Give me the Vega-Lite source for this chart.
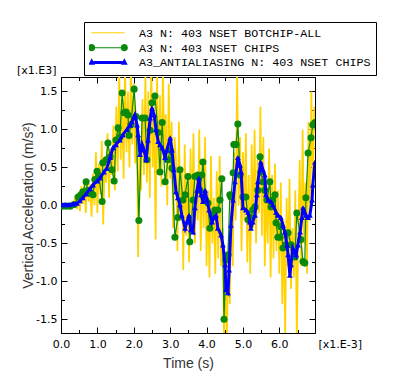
{
  "$schema": "https://vega.github.io/schema/vega-lite/v6.json",
  "width": 254,
  "height": 256,
  "autosize": "none",
  "padding": {"left": 61, "top": 77, "right": 81, "bottom": 52},
  "background": "white",
  "config": {
    "view": {"stroke": null},
    "axis": {"grid": false, "domainColor": "black", "tickColor": "black", "labelFont": "DejaVu Sans", "labelFontSize": 11, "labelColor": "#000", "titleFont": "Liberation Sans", "titleFontSize": 14, "titleFontWeight": "normal", "titleColor": "#333", "labelFlush": false, "labelOverlap": false}
  },
  "datasets": {
    "yellow": [
      {"t":0,"v":0},{"t":0.04,"v":0.01},{"t":0.08,"v":-0.01},{"t":0.12,"v":0.02},{"t":0.16,"v":-0.01},{"t":0.2,"v":0.02},{"t":0.24,"v":0},{"t":0.28,"v":0.03},{"t":0.32,"v":-0.02},{"t":0.36,"v":0.04},
      {"t":0.4,"v":0.12},{"t":0.44,"v":-0.05},{"t":0.48,"v":0.18},{"t":0.52,"v":-0.08},{"t":0.56,"v":0.25},{"t":0.6,"v":0.02},{"t":0.64,"v":0.3},{"t":0.68,"v":-0.1},{"t":0.72,"v":0.35},{"t":0.76,"v":0.05},{"t":0.8,"v":0.28},{"t":0.84,"v":-0.15},{"t":0.88,"v":0.42},{"t":0.92,"v":0},
      {"t":0.96,"v":0.7},{"t":1.0,"v":-0.1},{"t":1.04,"v":0.55},{"t":1.08,"v":0.15},{"t":1.12,"v":0.85},{"t":1.16,"v":-0.25},{"t":1.2,"v":0.6},{"t":1.24,"v":0.3},{"t":1.28,"v":0.95},{"t":1.32,"v":0.1},{"t":1.36,"v":0.75},{"t":1.4,"v":0.4},{"t":1.44,"v":1.05},{"t":1.48,"v":0.2},
      {"t":1.52,"v":1.3},{"t":1.56,"v":0.45},{"t":1.6,"v":1.75},{"t":1.64,"v":0.6},{"t":1.68,"v":1.4},{"t":1.72,"v":0.35},{"t":1.76,"v":1.8},{"t":1.8,"v":0.7},{"t":1.84,"v":1.5},{"t":1.88,"v":0.5},{"t":1.92,"v":1.85},{"t":1.96,"v":0.8},{"t":2.0,"v":1.6},{"t":2.04,"v":0.55},
      {"t":2.08,"v":1.2},{"t":2.12,"v":-0.68},{"t":2.16,"v":0.9},{"t":2.2,"v":0.2},{"t":2.24,"v":1.4},{"t":2.28,"v":0.4},
      {"t":2.32,"v":1.75},{"t":2.36,"v":0.3},{"t":2.4,"v":1.5},{"t":2.44,"v":0.1},{"t":2.48,"v":1.9},{"t":2.52,"v":0.5},{"t":2.56,"v":1.3},{"t":2.6,"v":-0.45},{"t":2.64,"v":1.7},{"t":2.68,"v":0.4},{"t":2.72,"v":1.45},{"t":2.76,"v":0.25},{"t":2.8,"v":1.8},{"t":2.84,"v":0.6},{"t":2.88,"v":1.2},{"t":2.92,"v":0},{"t":2.96,"v":1.6},{"t":3.0,"v":0.35},{"t":3.04,"v":1.1},{"t":3.08,"v":-0.3},{"t":3.12,"v":0.9},
      {"t":3.16,"v":0.6},{"t":3.2,"v":-0.6},{"t":3.24,"v":1.1},{"t":3.28,"v":-0.2},{"t":3.32,"v":0.5},{"t":3.36,"v":-0.85},{"t":3.4,"v":0.8},{"t":3.44,"v":-0.4},{"t":3.48,"v":0.3},{"t":3.52,"v":-0.75},{"t":3.56,"v":0.75},{"t":3.6,"v":-0.3},{"t":3.64,"v":0.95},{"t":3.68,"v":-0.5},{"t":3.72,"v":0.4},{"t":3.76,"v":-0.2},{"t":3.8,"v":1.0},
      {"t":3.84,"v":-0.6},{"t":3.88,"v":0.55},{"t":3.92,"v":-0.3},{"t":3.96,"v":0.9},{"t":4.0,"v":-0.8},{"t":4.04,"v":0.2},{"t":4.08,"v":-0.95},{"t":4.12,"v":0.65},{"t":4.16,"v":-0.5},{"t":4.2,"v":0.1},{"t":4.24,"v":-0.9},{"t":4.28,"v":0.45},{"t":4.32,"v":-0.7},{"t":4.36,"v":0.65},{"t":4.4,"v":-0.8},
      {"t":4.44,"v":-0.3},{"t":4.48,"v":-1.8},{"t":4.52,"v":-0.9},{"t":4.56,"v":-1.75},{"t":4.6,"v":-0.5},{"t":4.64,"v":-1.3},
      {"t":4.68,"v":0.2},{"t":4.72,"v":-0.8},{"t":4.76,"v":0.7},{"t":4.8,"v":-0.2},{"t":4.84,"v":1.75},{"t":4.88,"v":0},{"t":4.92,"v":0.9},
      {"t":4.96,"v":-0.6},{"t":5.0,"v":0.7},{"t":5.04,"v":-0.2},{"t":5.08,"v":0.95},{"t":5.12,"v":-0.75},{"t":5.16,"v":0.4},{"t":5.2,"v":-0.9},{"t":5.24,"v":0.8},{"t":5.28,"v":-0.3},{"t":5.32,"v":1.0},{"t":5.36,"v":-0.5},{"t":5.4,"v":0.6},{"t":5.44,"v":-0.1},{"t":5.48,"v":1.3},
      {"t":5.52,"v":-0.4},{"t":5.56,"v":0.9},{"t":5.6,"v":-0.8},{"t":5.64,"v":0.3},{"t":5.68,"v":-0.5},{"t":5.72,"v":0.75},{"t":5.76,"v":-0.95},{"t":5.8,"v":0.4},{"t":5.84,"v":-0.7},{"t":5.88,"v":0.55},{"t":5.92,"v":-0.6},{"t":5.96,"v":0.2},{"t":6.0,"v":-0.9},
      {"t":6.04,"v":0.3},{"t":6.08,"v":-1.3},{"t":6.12,"v":-0.2},{"t":6.16,"v":-1.75},{"t":6.2,"v":0.1},{"t":6.24,"v":-0.8},{"t":6.28,"v":0.35},{"t":6.32,"v":-1.1},{"t":6.36,"v":-0.3},{"t":6.4,"v":-0.95},{"t":6.44,"v":0.2},{"t":6.48,"v":-1.8},{"t":6.52,"v":-0.4},
      {"t":6.56,"v":0.6},{"t":6.6,"v":-0.8},{"t":6.64,"v":1.0},{"t":6.68,"v":-0.5},{"t":6.72,"v":0.3},{"t":6.76,"v":-0.9},{"t":6.8,"v":1.1},{"t":6.84,"v":-0.2},{"t":6.88,"v":1.5},{"t":6.92,"v":0.2},{"t":6.96,"v":1.3}
    ],
    "green": [
      {"t":0.03,"v":-0.01},{"t":0.14,"v":-0.01},{"t":0.25,"v":-0.01},{"t":0.36,"v":0.01},{"t":0.47,"v":0.11},{"t":0.55,"v":0.14},{"t":0.6,"v":0.18},{"t":0.69,"v":0.31},{"t":0.74,"v":0.2},{"t":0.8,"v":0.16},{"t":0.88,"v":0.14},{"t":0.93,"v":0.34},{"t":0.99,"v":0.45},{"t":1.04,"v":0.39},{"t":1.13,"v":0.05},{"t":1.15,"v":0.56},{"t":1.24,"v":0.6},{"t":1.29,"v":0.82},{"t":1.35,"v":0.64},{"t":1.4,"v":0.47},{"t":1.46,"v":0.32},{"t":1.51,"v":0.86},{"t":1.57,"v":1.02},{"t":1.62,"v":0.9},{"t":1.68,"v":1.48},{"t":1.73,"v":1.22},{"t":1.79,"v":1.23},{"t":1.84,"v":1.19},{"t":1.87,"v":0.92},{"t":1.92,"v":1.06},{"t":2.01,"v":1.53},{"t":2.06,"v":1.17},{"t":2.14,"v":-0.2},{"t":2.23,"v":1.15},{"t":2.31,"v":1.15},{"t":2.36,"v":0.6},{"t":2.45,"v":0.99},{"t":2.5,"v":1.35},{"t":2.58,"v":1.44},{"t":2.67,"v":0.96},{"t":2.72,"v":0.44},{"t":2.78,"v":1.09},{"t":2.86,"v":0.31},{"t":2.94,"v":0.6},{"t":3.0,"v":0.73},{"t":3.05,"v":0.49},{"t":3.13,"v":-0.42},{"t":3.21,"v":-0.16},{"t":3.27,"v":0.47},{"t":3.35,"v":0.07},{"t":3.41,"v":0.14},{"t":3.49,"v":0.38},{"t":3.54,"v":-0.48},{"t":3.63,"v":0.07},{"t":3.68,"v":0.38},{"t":3.76,"v":0.4},{"t":3.82,"v":0.2},{"t":3.87,"v":0.4},{"t":3.9,"v":0.57},{"t":3.98,"v":0.07},{"t":4.04,"v":0.03},{"t":4.09,"v":-0.3},{"t":4.15,"v":-0.13},{"t":4.23,"v":-0.06},{"t":4.31,"v":-0.06},{"t":4.37,"v":0.07},{"t":4.42,"v":0.35},{"t":4.48,"v":-1.5},{"t":4.53,"v":-0.72},{"t":4.59,"v":-0.65},{"t":4.64,"v":0.14},{"t":4.67,"v":0.11},{"t":4.73,"v":0.43},{"t":4.75,"v":0.8},{"t":4.81,"v":0.8},{"t":4.86,"v":1.07},{"t":4.92,"v":0.4},{"t":5.0,"v":0.11},{"t":5.08,"v":0.11},{"t":5.14,"v":-0.19},{"t":5.22,"v":-0.16},{"t":5.27,"v":-0.06},{"t":5.33,"v":-0.02},{"t":5.41,"v":0.2},{"t":5.47,"v":0.64},{"t":5.49,"v":0.44},{"t":5.55,"v":0.31},{"t":5.6,"v":0.2},{"t":5.66,"v":0.07},{"t":5.74,"v":0.31},{"t":5.77,"v":-0.02},{"t":5.82,"v":0.07},{"t":5.88,"v":0.14},{"t":5.91,"v":-0.23},{"t":5.96,"v":-0.42},{"t":6.02,"v":-0.42},{"t":6.04,"v":-0.28},{"t":6.1,"v":-0.56},{"t":6.18,"v":-0.52},{"t":6.24,"v":-0.36},{"t":6.32,"v":-0.52},{"t":6.43,"v":-0.68},{"t":6.48,"v":-0.1},{"t":6.59,"v":-0.45},{"t":6.65,"v":-0.74},{"t":6.7,"v":-0.76},{"t":6.73,"v":0.1},{"t":6.79,"v":0.69},{"t":6.87,"v":0.89},{"t":6.92,"v":1.06},{"t":6.98,"v":1.09}
    ],
    "blue": [
      {"t":0,"v":0.01},{"t":0.11,"v":0.01},{"t":0.22,"v":0.01},{"t":0.33,"v":0.02},{"t":0.44,"v":0.03},{"t":0.52,"v":0.06},{"t":0.6,"v":0.1},{"t":0.69,"v":0.15},{"t":0.8,"v":0.22},{"t":0.88,"v":0.27},{"t":0.99,"v":0.32},{"t":1.07,"v":0.36},{"t":1.18,"v":0.44},{"t":1.26,"v":0.49},{"t":1.35,"v":0.63},{"t":1.43,"v":0.76},{"t":1.51,"v":0.8},{"t":1.62,"v":0.86},{"t":1.7,"v":0.93},{"t":1.81,"v":1.0},{"t":1.9,"v":1.06},{"t":1.95,"v":1.1},{"t":2.03,"v":1.19},{"t":2.09,"v":1.06},{"t":2.12,"v":0.93},{"t":2.17,"v":0.67},{"t":2.23,"v":0.8},{"t":2.28,"v":0.73},{"t":2.34,"v":0.6},{"t":2.39,"v":0.86},{"t":2.45,"v":1.15},{"t":2.5,"v":1.28},{"t":2.56,"v":1.19},{"t":2.61,"v":1.0},{"t":2.67,"v":0.84},{"t":2.72,"v":0.8},{"t":2.78,"v":0.76},{"t":2.86,"v":0.63},{"t":2.91,"v":0.73},{"t":3.0,"v":0.89},{"t":3.05,"v":0.73},{"t":3.1,"v":0.47},{"t":3.16,"v":0.18},{"t":3.21,"v":0.1},{"t":3.27,"v":0.01},{"t":3.32,"v":-0.13},{"t":3.41,"v":-0.3},{"t":3.46,"v":-0.22},{"t":3.52,"v":-0.13},{"t":3.57,"v":-0.32},{"t":3.63,"v":-0.35},{"t":3.68,"v":-0.03},{"t":3.74,"v":0.2},{"t":3.79,"v":0.36},{"t":3.85,"v":0.14},{"t":3.9,"v":0.05},{"t":3.96,"v":0.2},{"t":4.01,"v":0.07},{"t":4.07,"v":-0.06},{"t":4.15,"v":-0.22},{"t":4.2,"v":-0.16},{"t":4.26,"v":-0.13},{"t":4.31,"v":-0.3},{"t":4.4,"v":-0.39},{"t":4.45,"v":-0.52},{"t":4.51,"v":-0.78},{"t":4.53,"v":-1.11},{"t":4.59,"v":-1.15},{"t":4.62,"v":-0.85},{"t":4.67,"v":-0.26},{"t":4.73,"v":0.07},{"t":4.78,"v":0.31},{"t":4.86,"v":0.63},{"t":4.92,"v":0.53},{"t":4.95,"v":0.44},{"t":5.0,"v":-0.03},{"t":5.08,"v":-0.06},{"t":5.14,"v":-0.09},{"t":5.19,"v":-0.22},{"t":5.22,"v":-0.3},{"t":5.27,"v":-0.22},{"t":5.33,"v":-0.13},{"t":5.38,"v":0.14},{"t":5.41,"v":0.31},{"t":5.49,"v":0.57},{"t":5.55,"v":0.47},{"t":5.6,"v":0.4},{"t":5.63,"v":0.14},{"t":5.69,"v":0.07},{"t":5.77,"v":0.05},{"t":5.82,"v":0.01},{"t":5.91,"v":-0.09},{"t":5.96,"v":-0.13},{"t":6.04,"v":-0.16},{"t":6.1,"v":-0.26},{"t":6.15,"v":-0.35},{"t":6.21,"v":-0.52},{"t":6.24,"v":-0.65},{"t":6.29,"v":-0.92},{"t":6.32,"v":-0.78},{"t":6.37,"v":-0.56},{"t":6.43,"v":-0.61},{"t":6.46,"v":-0.65},{"t":6.51,"v":-0.52},{"t":6.57,"v":-0.35},{"t":6.62,"v":-0.16},{"t":6.65,"v":-0.03},{"t":6.7,"v":-0.09},{"t":6.73,"v":-0.13},{"t":6.79,"v":-0.16},{"t":6.84,"v":-0.13},{"t":6.9,"v":0.07},{"t":6.92,"v":0.27},{"t":6.98,"v":0.57}
    ],
    "legend": []
  },
  "resolve": {"axis": {"x": "independent", "y": "independent"}},
  "layer": [
    {
      "data": {"name": "yellow"},
      "mark": {"type": "line", "color": "#FFD200", "strokeWidth": 1.7, "clip": true},
      "encoding": {
        "x": {"field": "t", "type": "quantitative", "scale": {"domain": [0, 6.98], "nice": false, "zero": false},
          "axis": {"orient": "bottom", "values": [0,1,2,3,4,5,6], "labelExpr": "format(datum.value, '.1f')", "tickSize": -6, "labelPadding": 11, "title": "Time (s)", "titleY": 34, "titleBaseline": "alphabetic"}},
        "y": {"field": "v", "type": "quantitative", "scale": {"domain": [-1.68, 1.69], "nice": false, "zero": false},
          "axis": {"orient": "left", "values": [-1.5,-1,-0.5,0,0.5,1,1.5], "labelExpr": "replace(format(datum.value, '.1f'), '\u2212', '-')", "tickSize": -6, "labelPadding": 10, "title": "Vertical Acceleration (m/s\u00b2)", "titleX": -29, "titleY": 128, "titleAngle": 270, "titleAlign": "center", "titleBaseline": "alphabetic"}}
      }
    },
    {
      "data": {"name": "green"},
      "mark": {"type": "line", "color": "#0A8A0A", "strokeWidth": 1.2, "clip": true},
      "encoding": {
        "x": {"field": "t", "type": "quantitative", "axis": {"orient": "top", "values": [0,1,2,3,4,5,6], "labels": false, "tickSize": -6, "title": null}},
        "y": {"field": "v", "type": "quantitative", "axis": {"orient": "right", "values": [-1.5,-1,-0.5,0,0.5,1,1.5], "labels": false, "tickSize": -6, "title": null}}
      }
    },
    {
      "data": {"name": "green"},
      "mark": {"type": "point", "shape": "circle", "filled": true, "color": "#0A8A0A", "size": 50, "opacity": 1, "clip": true},
      "encoding": {
        "x": {"field": "t", "type": "quantitative", "axis": {"orient": "bottom", "values": [0.5,1.5,2.5,3.5,4.5,5.5,6.5], "labels": false, "tickSize": -3.5, "title": "[x1.E-3]", "titleX": 257, "titleY": 14, "titleAlign": "left", "titleAngle": 0, "titleBaseline": "alphabetic", "titleFont": "DejaVu Sans", "titleFontSize": 11, "titleColor": "#000"}},
        "y": {"field": "v", "type": "quantitative", "axis": {"orient": "left", "values": [-1.25,-0.75,-0.25,0.25,0.75,1.25], "labels": false, "tickSize": -3.5, "title": "[x1.E3]", "titleX": -5, "titleY": -4, "titleAlign": "right", "titleAngle": 0, "titleBaseline": "alphabetic", "titleFont": "DejaVu Sans", "titleFontSize": 11, "titleColor": "#000"}}
      }
    },
    {
      "data": {"name": "blue"},
      "mark": {"type": "line", "color": "#0000FF", "strokeWidth": 3, "clip": true},
      "encoding": {
        "x": {"field": "t", "type": "quantitative", "axis": {"orient": "top", "values": [0.5,1.5,2.5,3.5,4.5,5.5,6.5], "labels": false, "tickSize": -3.5, "title": null}},
        "y": {"field": "v", "type": "quantitative", "axis": {"orient": "right", "values": [-1.25,-0.75,-0.25,0.25,0.75,1.25], "labels": false, "tickSize": -3.5, "title": null}}
      }
    },
    {
      "data": {"name": "blue"},
      "mark": {"type": "point", "shape": "triangle-up", "filled": true, "color": "#0000FF", "size": 34, "opacity": 1, "clip": true},
      "encoding": {
        "x": {"field": "t", "type": "quantitative", "axis": null},
        "y": {"field": "v", "type": "quantitative", "axis": null}
      }
    },
    {
      "data": {"name": "legend"},
      "mark": {"type": "point", "filled": true, "opacity": 1, "strokeWidth": 0},
      "encoding": {
        "x": {"field": "t", "type": "quantitative", "axis": null},
        "y": {"field": "v", "type": "quantitative", "axis": null},
        "color": {"field": "s", "type": "nominal",
          "scale": {"domain": ["A3 N: 403 NSET BOTCHIP-ALL", "A3 N: 403 NSET CHIPS", "A3_ANTIALIASING N: 403 NSET CHIPS"], "range": ["#FFD200", "#0A8A0A", "#0000FF"]},
          "legend": {"orient": "none", "legendX": 23, "legendY": -55, "title": null, "padding": 5, "strokeColor": "black", "fillColor": "white", "cornerRadius": 0, "symbolSize": 1156, "symbolStrokeWidth": 0, "symbolOffset": 2, "labelOffset": 14, "labelFont": "Liberation Mono", "labelFontSize": 11.7, "labelColor": "black", "labelLimit": 400, "clipHeight": 11.7, "rowPadding": 1.8, "symbolOpacity": 1}},
        "shape": {"field": "s", "type": "nominal",
          "scale": {"domain": ["A3 N: 403 NSET BOTCHIP-ALL", "A3 N: 403 NSET CHIPS", "A3_ANTIALIASING N: 403 NSET CHIPS"], "range": ["M-0.98,-0.03H0.98V0.03H-0.98Z", "M-0.96,-0.03H0.96V0.03H-0.96Z M-0.75,0A0.21,0.21 0 1,1 -1.17,0A0.21,0.21 0 1,1 -0.75,0Z M1.17,0A0.21,0.21 0 1,1 0.75,0A0.21,0.21 0 1,1 1.17,0Z", "M-0.96,-0.09H0.96V0.09H-0.96Z M-0.96,-0.24L-0.76,0.14H-1.16Z M0.96,-0.24L1.16,0.14H0.76Z"]}}
      }
    }
  ]
}
